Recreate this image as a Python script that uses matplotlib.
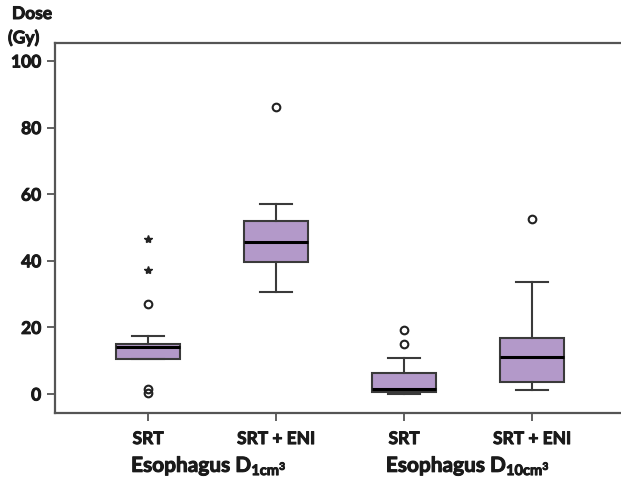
import matplotlib
matplotlib.use("Agg")
import matplotlib.pyplot as plt
import matplotlib.patheffects as pe

# ---- data ----
positions = [1, 2, 3, 4]
tick_labels = ["SRT", "SRT + ENI", "SRT", "SRT + ENI"]
q1 = [10.4, 39.5, 0.7, 3.7]
med = [14.1, 45.5, 1.4, 11.0]
q3 = [15.0, 52.0, 6.3, 16.9]
whislo = [10.4, 30.5, 0.0, 1.1]
whishi = [17.4, 57.0, 10.9, 33.5]
circle_outliers = [[27.0, 1.6, 0.4], [86.3], [14.9, 19.1], [52.4]]
star_outliers = [[37.2, 46.5], [], [], []]
group_labels = [r"Esophagus $\mathbf{D_{1cm^3}}$", r"Esophagus $\mathbf{D_{10cm^3}}$"]
yticks = [0, 20, 40, 60, 80, 100]

W = 'bold'
plt.rcParams['font.family'] = ['Lato', 'DejaVu Sans']
plt.rcParams['font.weight'] = W
plt.rcParams['mathtext.fontset'] = 'custom'
plt.rcParams['mathtext.bf'] = 'Lato:bold'
plt.rcParams['mathtext.rm'] = 'Lato:bold'
plt.rcParams['mathtext.it'] = 'Lato:bold'

thick = [pe.withStroke(linewidth=0.7, foreground='#1a1a1a')]
TC = '#1a1a1a'

fig = plt.figure(figsize=(6.21, 4.84), dpi=100)
ax = fig.add_axes([0.0886, 0.1467, 0.9114, 0.7645])

edge = "#3a3a3a"
stats = []
for i in range(4):
    stats.append(dict(med=med[i], q1=q1[i], q3=q3[i], whislo=whislo[i],
                      whishi=whishi[i], fliers=circle_outliers[i]))
ax.bxp(stats, positions=positions, widths=0.5, patch_artist=True,
       boxprops=dict(facecolor="#b399c9", edgecolor=edge, linewidth=1.5),
       medianprops=dict(color="black", linewidth=2.2),
       whiskerprops=dict(color=edge, linewidth=1.5),
       capprops=dict(color=edge, linewidth=1.5),
       capwidths=0.25,
       flierprops=dict(marker='o', markerfacecolor='none', markeredgecolor='#222222',
                       markersize=5.5, markeredgewidth=1.5))
for p, s in zip(positions, star_outliers):
    if s:
        ax.plot([p] * len(s), s, linestyle='none', marker='*', color='#222222',
                markersize=6)

ax.set_xlim(0.273, 4.695)
ax.set_ylim(-5.7, 105.4)
ax.set_yticks(yticks)
ax.set_yticklabels([str(t) for t in yticks], fontsize=12.5, fontweight=W, color=TC)
ax.set_xticks(positions)
ax.set_xticklabels(tick_labels, fontsize=12.5, fontweight=W, color=TC)
for lab in ax.get_xticklabels() + ax.get_yticklabels():
    lab.set_path_effects(thick)

for side in ['left', 'top', 'bottom']:
    ax.spines[side].set_color('#555555')
    ax.spines[side].set_linewidth(1.6)
ax.spines['right'].set_visible(False)
ax.tick_params(axis='both', color='#555555', width=1.3, length=6)
ax.tick_params(axis='x', pad=7)
ax.tick_params(axis='y', pad=4)

for txt, x, y, ha in [("Dose", 12, 14, 'left'), ("(Gy)", 8, 38, 'left')]:
    t = fig.text(x / 621, 1 - y / 484, txt, fontsize=12.5, fontweight=W, va='center',
                 ha=ha, color=TC)
    t.set_path_effects(thick)

for lbl, x in zip(group_labels, [209, 468]):
    t = fig.text(x / 621, 1 - 466 / 484, lbl, fontsize=15, fontweight=W,
                 ha='center', va='center', color=TC)
    t.set_path_effects(thick)

fig.savefig("out.png", dpi=100)
